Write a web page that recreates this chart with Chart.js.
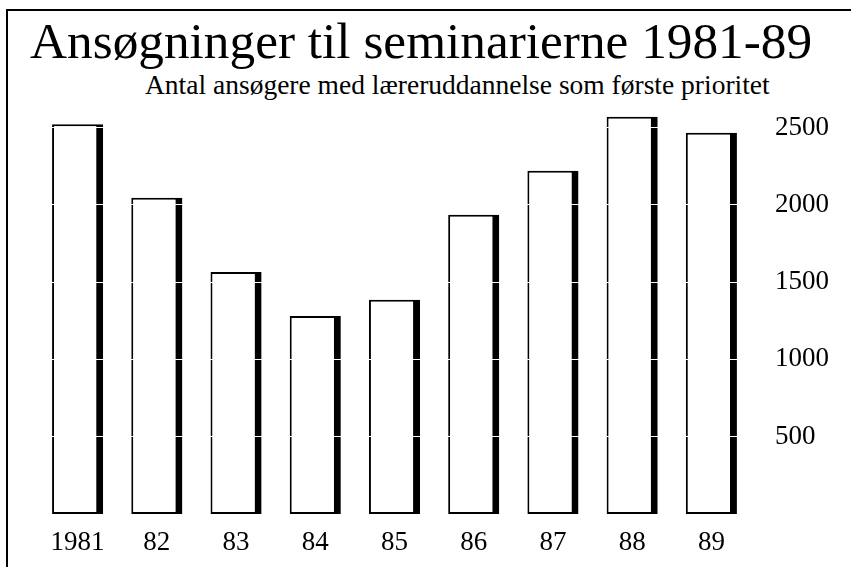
<!DOCTYPE html>
<html>
<head>
<meta charset="utf-8">
<script src="https://cdn.jsdelivr.net/npm/chart.js@4/dist/chart.umd.min.js"></script>
<style>
  html, body { margin: 0; padding: 0; background: #fff; overflow: hidden; }
  #wrap { position: relative; width: 851px; height: 567px; }
  #frame { position: absolute; left: 6px; top: 9px; width: 900px; height: 600px;
           border-top: 2px solid #000; border-left: 2px solid #000; }
  .t { position: absolute; white-space: nowrap; font-family: "Liberation Serif", "Times New Roman", serif; color: #000; }
  #title { left: 30px; top: 13px; font-size: 51.3px; line-height: 56px; }
  #subtitle { left: 145px; top: 70px; font-size: 27.5px; line-height: 30px; }
  canvas { position: absolute; left: 0; top: 0; }
</style>
</head>
<body>
<div id="wrap">
  <div id="frame"></div>
  <div class="t" id="title">Ansøgninger til seminarierne 1981-89</div>
  <div class="t" id="subtitle">Antal ansøgere med læreruddannelse som første prioritet</div>
  <canvas id="c" width="851" height="567"></canvas>
</div>
<script>
const years = ["1981", "82", "83", "84", "85", "86", "87", "88", "89"];
const applicants = [2520, 2045, 1565, 1280, 1385, 1935, 2220, 2570, 2465];
const yTicks = [500, 1000, 1500, 2000, 2500];

new Chart(document.getElementById('c'), {
  type: 'bar',
  data: {
    labels: years,
    datasets: [{
      data: applicants,
      backgroundColor: '#ffffff',
      borderColor: '#000000',
      borderWidth: { top: 2, left: 2, bottom: 2, right: 7 },
      borderSkipped: false,
      barPercentage: 0.645,
      categoryPercentage: 1
    }]
  },
  options: {
    responsive: false,
    animation: false,
    devicePixelRatio: 1,
    layout: { padding: { top: 112, left: 38, right: 0, bottom: 0 } },
    plugins: { legend: { display: false }, tooltip: { enabled: false } },
    scales: {
      x: {
        grid: { display: false },
        border: { display: false },
        ticks: { color: '#000', padding: 5, font: { family: 'Liberation Serif', size: 27 } },
        afterFit: s => { s.height = 53; }
      },
      y: {
        position: 'right',
        min: 0,
        max: 2600,
        border: { display: false },
        grid: { color: '#ffffff', lineWidth: 1, drawTicks: false, z: 1 },
        afterBuildTicks: s => { s.ticks = yTicks.map(v => ({ value: v })); },
        ticks: {
          color: '#000', padding: 24,
          font: { family: 'Liberation Serif', size: 27 },
          callback: v => String(v)
        },
        afterFit: s => { s.width = 100; }
      }
    }
  }
});
</script>
</body>
</html>
